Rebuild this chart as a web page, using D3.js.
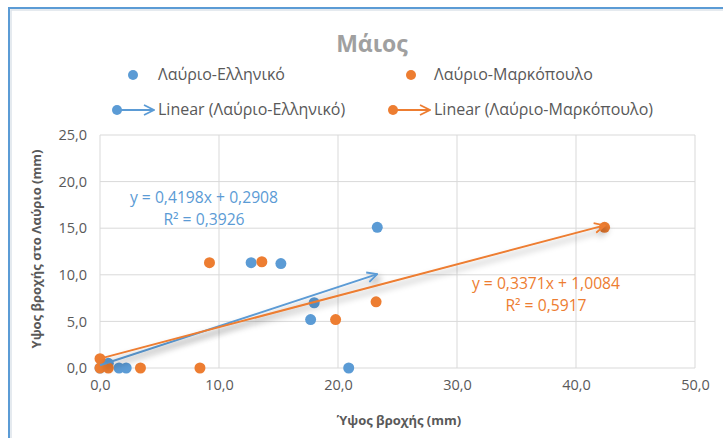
<!DOCTYPE html>
<html><head><meta charset="utf-8">
<script src="https://cdn.jsdelivr.net/npm/d3@7"></script>
<style>body{margin:0;background:#fff}svg{display:block}text{font-family:"Open Sans",Lato,sans-serif}</style>
</head><body><svg id="c" width="723" height="438"></svg>
<script>
const title = "Μάιος";
const seriesNames = ["Λαύριο-Ελληνικό", "Λαύριο-Μαρκόπουλο"];
const xTicks = [0, 10, 20, 30, 40, 50];
const yTicks = [0, 5, 10, 15, 20, 25];
const elX = [0.7, 1.6, 2.2, 12.7, 15.2, 23.3, 18.0, 17.7, 20.9, 0];
const elY = [0.5, 0, 0, 11.3, 11.2, 15.1, 7.0, 5.2, 0, 0];
const mkX = [0, 0.7, 0, 3.4, 8.4, 9.2, 13.6, 19.8, 23.2, 42.4];
const mkY = [0, 0, 1.0, 0, 0, 11.3, 11.4, 5.2, 7.1, 15.1];
const trendEl = {slope: 0.4198, intercept: 0.2908, r2: "0,3926", eq: "y = 0,4198x + 0,2908"};
const trendMk = {slope: 0.3371, intercept: 1.0084, r2: "0,5917", eq: "y = 0,3371x + 1,0084"};
const colors = ["#5b9bd5", "#ed7d31"];

const svg = d3.select("#c");
const x = d3.scaleLinear().domain([0, 50]).range([100, 695]);
const y = d3.scaleLinear().domain([0, 25]).range([368, 135]);
const fmt = d => d.toFixed(1).replace(".", ",");
const FF = "'Open Sans', Lato, sans-serif";

const defs = svg.append("defs");
const f = defs.append("filter").attr("id", "sh").attr("x", "-10%").attr("y", "-50%").attr("width", "130%").attr("height", "300%");
f.append("feDropShadow").attr("dx", 3).attr("dy", 4).attr("stdDeviation", 3).attr("flood-color", "#000").attr("flood-opacity", 0.35);
colors.forEach((c, i) => {
  defs.append("marker").attr("id", "arr" + i).attr("viewBox", "0 0 12 12").attr("refX", 11).attr("refY", 6)
    .attr("markerWidth", 12).attr("markerHeight", 12).attr("markerUnits", "userSpaceOnUse").attr("orient", "auto")
    .append("path").attr("d", "M1,1 L11,6 L1,11").attr("fill", "none").attr("stroke", c).attr("stroke-width", 1.8);
});

// border
svg.append("path").attr("d", "M9,438 V8 H723").attr("fill", "none").attr("stroke", "#5b9bd5").attr("stroke-width", 2);
svg.append("path").attr("d", "M11,438 V10 H723").attr("fill", "none").attr("stroke", "#dde3ea").attr("stroke-width", 1.5);

// grid
svg.append("g").selectAll("line").data(yTicks).join("line")
  .attr("x1", x(0)).attr("x2", x(50)).attr("y1", d => y(d)).attr("y2", d => y(d))
  .attr("stroke", "#d9d9d9").attr("stroke-width", 1);
svg.append("g").selectAll("line").data(xTicks).join("line")
  .attr("y1", y(0)).attr("y2", y(25)).attr("x1", d => x(d)).attr("x2", d => x(d))
  .attr("stroke", "#d9d9d9").attr("stroke-width", 1);

// axes
const xa = svg.append("g").attr("transform", `translate(0,${y(0)})`)
  .call(d3.axisBottom(x).tickValues(xTicks).tickFormat(fmt).tickSize(0).tickPadding(12));
const ya = svg.append("g").attr("transform", `translate(${x(0)},0)`)
  .call(d3.axisLeft(y).tickValues(yTicks).tickFormat(fmt).tickSize(0).tickPadding(13));
[xa, ya].forEach(a => {
  a.select(".domain").remove();
  a.selectAll("text").attr("fill", "#595959").style("font-size", "14.5px").style("font-family", FF);
});

// title
svg.append("text").attr("x", 372).attr("y", 52).attr("text-anchor", "middle")
  .attr("fill", "#a0a0a0").style("font-size", "23px").style("font-weight", "bold").text(title);

// axis titles
svg.append("text").attr("x", 399).attr("y", 425).attr("text-anchor", "middle").attr("fill", "#595959")
  .style("font-size", "13px").style("font-weight", "bold").text("Ύψος βροχής (mm)");
svg.append("text").attr("transform", "translate(41,249) rotate(-90)").attr("text-anchor", "middle").attr("fill", "#595959")
  .style("font-size", "13px").style("font-weight", "bold").text("Υψος βροχής στο Λαύριο (mm)");

// points
const el = elX.map((v, i) => [v, elY[i]]);
const mk = mkX.map((v, i) => [v, mkY[i]]);
[el, mk].forEach((data, i) => {
  svg.append("g").selectAll("circle").data(data).join("circle")
    .attr("cx", d => x(d[0])).attr("cy", d => y(d[1])).attr("r", 5.5).attr("fill", colors[i]);
});

// trendlines
[[trendEl, el], [trendMk, mk]].forEach(([t, data], i) => {
  const xmax = d3.max(data, d => d[0]);
  svg.append("line").attr("x1", x(0)).attr("y1", y(t.intercept))
    .attr("x2", x(xmax)).attr("y2", y(t.slope * xmax + t.intercept))
    .attr("stroke", colors[i]).attr("stroke-width", 2).attr("marker-end", `url(#arr${i})`)
    .attr("filter", "url(#sh)");
});

// equations
const eqs = [[trendEl, 204, 203], [trendMk, 546, 289]];
eqs.forEach(([t, cx, cy], i) => {
  svg.append("text").attr("x", cx).attr("y", cy).attr("text-anchor", "middle").attr("fill", colors[i])
    .style("font-size", "15.7px").text(t.eq);
  svg.append("text").attr("x", cx).attr("y", cy + 22).attr("text-anchor", "middle").attr("fill", colors[i])
    .style("font-size", "15.7px").text("R² = " + t.r2);
});

// legend
const leg = [[133, 158, 80], [411, 434, 80]];
seriesNames.forEach((n, i) => {
  const [dx, tx, ty] = leg[i];
  svg.append("circle").attr("cx", dx).attr("cy", ty - 5).attr("r", 5).attr("fill", colors[i]);
  svg.append("text").attr("x", tx).attr("y", ty).attr("fill", "#595959").style("font-size", "16px").text(n);
});
const leg2 = [[117, 154, 158], [393, 430, 434]];
seriesNames.forEach((n, i) => {
  const [x1, x2, tx] = leg2[i];
  const yy = 110;
  svg.append("line").attr("x1", x1).attr("x2", x2).attr("y1", yy).attr("y2", yy)
    .attr("stroke", colors[i]).attr("stroke-width", 2).attr("marker-end", `url(#arr${i})`);
  svg.append("circle").attr("cx", x1).attr("cy", yy).attr("r", 5).attr("fill", colors[i]);
  svg.append("text").attr("x", tx).attr("y", yy + 5).attr("fill", "#595959").style("font-size", "16px").text(`Linear (${n})`);
});
</script></body></html>
